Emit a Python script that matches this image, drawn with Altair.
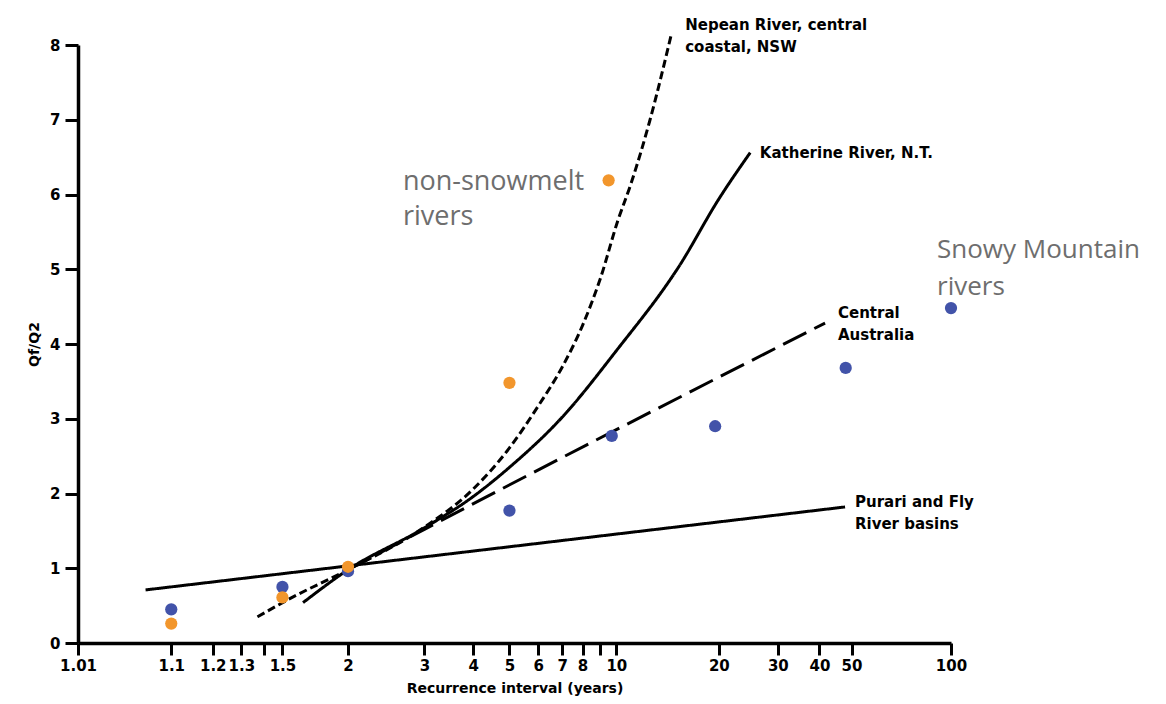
import math
import altair as alt
import pandas as pd

# ---------------- data ----------------
# x-axis ticks: recurrence interval (years), Gumbel probability scale
TICK_T = [1.01, 1.1, 1.2, 1.3, 1.4, 1.5, 2, 3, 4, 5, 6, 7, 8, 9, 10, 20, 30, 40, 50, 100]
UNLABELED_T = ["1.4", "9"]
Y_TICKS = [0, 1, 2, 3, 4, 5, 6, 7, 8]

# Snowy Mountain rivers (blue points)
BLUE_T = [1.1, 1.5, 2, 5, 9.7, 19.5, 48, 100]
BLUE_V = [0.45, 0.75, 0.96, 1.77, 2.77, 2.9, 3.68, 4.48]

# non-snowmelt rivers (orange points)
ORANGE_T = [1.1, 1.5, 2, 5, 9.5]
ORANGE_V = [0.26, 0.61, 1.02, 3.48, 6.19]

# regional flood-frequency curves
NEPEAN_T = [1.37, 1.55, 2, 3, 4, 5, 6, 7, 8, 9, 10.1, 11, 12.5, 14.5]
NEPEAN_V = [0.35, 0.60, 0.98, 1.55, 2.06, 2.61, 3.17, 3.69, 4.25, 4.88, 5.65, 6.13, 6.98, 8.16]
KATHERINE_T = [1.63, 2, 3, 4, 5, 7, 10, 15.3, 20, 24.8]
KATHERINE_V = [0.54, 0.98, 1.54, 1.96, 2.35, 3.02, 3.91, 5.05, 5.94, 6.56]
CENTRAL_T = [2, 3, 41.6]
CENTRAL_V = [0.98, 1.52, 4.28]
PURARI_T = [1.06, 47.8]
PURARI_V = [0.71, 1.82]

SERIES = ["Nepean", "Katherine", "Central", "Purari"]

# curve labels (anchor = first line)
LABEL_TEXT = ["Nepean River, central\ncoastal, NSW", "Katherine River, N.T.",
              "Central\nAustralia", "Purari and Fly\nRiver basins"]
LABEL_T = [15.9, 26.5, 45.5, 51.2]
LABEL_V = [8.27, 6.56, 4.41, 1.89]

# group annotations (anchor = first line)
NOTE1_TEXT = ["non-snowmelt\nrivers"]
NOTE1_T = [2.66]
NOTE1_V = [6.17]
NOTE2_TEXT = ["Snowy Mountain\nrivers"]
NOTE2_T = [90.7]
NOTE2_V = [5.26]


def gumbel(t):
    return -math.log(-math.log(1 - 1 / t))


GEXPR = "-log(-log(1 - 1/datum.T))"
X_DOMAIN = [gumbel(TICK_T[0]), gumbel(TICK_T[-1])]
X_VALUES = [gumbel(t) for t in TICK_T]
INV = "format(1/(1-exp(-exp(-datum.value))), '.3~r')"
UNL = "[" + ",".join("'%s'" % s for s in UNLABELED_T) + "]"
LABEL_EXPR = f"indexof({UNL}, {INV}) >= 0 ? '' : {INV}"

BLACK_FONT = "DejaVu Sans"

x_enc = alt.X(
    "g:Q",
    scale=alt.Scale(domain=X_DOMAIN, nice=False, zero=False),
    axis=alt.Axis(values=X_VALUES, labelExpr=LABEL_EXPR, title="Recurrence interval (years)",
                  labelFlush=False, labelOverlap=False, tickSize=12, labelPadding=3,
                  titlePadding=8),
)
y_enc = alt.Y(
    "v:Q",
    scale=alt.Scale(domain=[0, 8], nice=False, zero=False),
    axis=alt.Axis(values=Y_TICKS, format="d", title="Qf/Q2", tickSize=13, labelPadding=5,
                  titlePadding=8),
)

# lines
rows = []
for name, ts, vs in [("Nepean", NEPEAN_T, NEPEAN_V), ("Katherine", KATHERINE_T, KATHERINE_V),
                     ("Central", CENTRAL_T, CENTRAL_V), ("Purari", PURARI_T, PURARI_V)]:
    for t, v in zip(ts, vs):
        rows.append({"series": name, "T": t, "v": v})
lines_df = pd.DataFrame(rows)

lines = alt.Chart(lines_df).transform_calculate(g=GEXPR).mark_line(
    color="black", strokeWidth=3, interpolate="monotone", strokeCap="butt"
).encode(
    x=x_enc, y=y_enc, detail="series:N",
    strokeDash=alt.StrokeDash("series:N", scale=alt.Scale(
        domain=SERIES, range=[[8, 4], [1, 0], [26, 9], [1, 0]]), legend=None),
)

blue = alt.Chart(pd.DataFrame({"T": BLUE_T, "v": BLUE_V})).transform_calculate(g=GEXPR).mark_circle(
    color="#4253a9", size=150, opacity=1
).encode(x="g:Q", y="v:Q")

orange = alt.Chart(pd.DataFrame({"T": ORANGE_T, "v": ORANGE_V})).transform_calculate(g=GEXPR).mark_circle(
    color="#f2962c", size=150, opacity=1
).encode(x="g:Q", y="v:Q")

labels = alt.Chart(pd.DataFrame({"T": LABEL_T, "v": LABEL_V, "text": LABEL_TEXT})).transform_calculate(
    g=GEXPR).mark_text(
    align="left", baseline="middle", lineBreak="\n", lineHeight=22, font=BLACK_FONT,
    fontWeight="bold", fontSize=15, color="black"
).encode(x="g:Q", y="v:Q", text="text:N")

note1 = alt.Chart(pd.DataFrame({"T": NOTE1_T, "v": NOTE1_V, "text": NOTE1_TEXT})).transform_calculate(
    g=GEXPR).mark_text(
    align="left", baseline="middle", lineBreak="\n", lineHeight=35, font="Open Sans",
    fontSize=27, color="#6e6e6e"
).encode(x="g:Q", y="v:Q", text="text:N")

note2 = alt.Chart(pd.DataFrame({"T": NOTE2_T, "v": NOTE2_V, "text": NOTE2_TEXT})).transform_calculate(
    g=GEXPR).mark_text(
    align="left", baseline="middle", lineBreak="\n", lineHeight=37, font="Open Sans",
    fontSize=26, color="#6e6e6e"
).encode(x="g:Q", y="v:Q", text="text:N")

chart = alt.layer(lines, blue, orange, labels, note1, note2).properties(
    width=873, height=598,
    padding={"left": 70, "top": 37, "right": 200, "bottom": 58},
    autosize="none",
).configure_view(stroke=None).configure_axis(
    grid=False, domainColor="black", domainWidth=3.5, tickColor="black", tickWidth=3,
    labelColor="black", labelFont=BLACK_FONT, labelFontWeight="bold", labelFontSize=15,
    titleColor="black", titleFont=BLACK_FONT, titleFontWeight="bold", titleFontSize=14,
)

chart.save("out.html", embed_options={"renderer": "svg", "actions": False})
